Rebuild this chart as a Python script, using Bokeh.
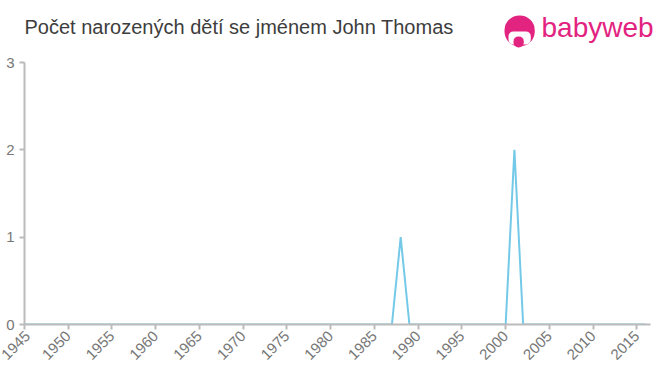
import math
from bokeh.plotting import figure
from bokeh.models import Label, FixedTicker, Range1d
from bokeh.embed import file_html
from bokeh.resources import INLINE

years = list(range(1945, 2017))
counts = [0] * len(years)
peak_years = [1988, 2001]
peak_values = [1, 2]
for y, v in zip(peak_years, peak_values):
    counts[years.index(y)] = v

x_ticks = list(range(1945, 2020, 5))
y_ticks = [0, 1, 2, 3]
title_text = "Počet narozených dětí se jménem John Thomas"

FONT = "Liberation Sans"
PINK = "#e2237f"

p = figure(width=660, height=375, output_backend="svg", toolbar_location=None,
           x_range=Range1d(1945, 2017.7), y_range=Range1d(0, 3.71),
           min_border_left=24, min_border_right=0, min_border_top=0, min_border_bottom=51)
p.outline_line_color = None
p.xgrid.grid_line_color = None
p.ygrid.grid_line_color = None
p.background_fill_color = "white"
p.border_fill_color = "white"

p.line(years, counts, line_color="#74c9e8", line_width=2)

for ax in (p.xaxis[0], p.yaxis[0]):
    ax.axis_line_color = "#bbbbbb"
    ax.axis_line_width = 2
    ax.major_tick_line_color = "#bbbbbb"
    ax.major_tick_line_width = 2
    ax.major_tick_out = 5
    ax.major_tick_in = 0
    ax.minor_tick_line_color = None
    ax.major_label_text_color = "#777777"
    ax.major_label_text_font = FONT
    ax.major_label_text_font_size = "15px"

p.xaxis[0].ticker = FixedTicker(ticks=x_ticks)
p.yaxis[0].ticker = FixedTicker(ticks=y_ticks)
p.yaxis[0].bounds = (0, 3)
p.xaxis[0].bounds = (1945, 2016.55)
p.xaxis[0].major_label_orientation = math.pi / 4
p.xaxis[0].major_label_standoff = 4
p.yaxis[0].major_label_standoff = 5

# screen units are relative to the frame (frame bottom-left = canvas (24, 324))
title = Label(x=0, y=287, x_units="screen", y_units="screen", text=title_text,
              text_font=FONT, text_font_size="20px", text_color="#3d3d3d")
p.add_layout(title)

# logo icon: pink disc, white face, pink head (box grows right/up from anchor)
icon = Label(x=480, y=278, x_units="screen", y_units="screen", text=" ",
             text_font_size="1px", background_fill_color=PINK,
             border_radius=15, padding=15)
p.add_layout(icon)
face = Label(x=484, y=280, x_units="screen", y_units="screen", text=" ",
             text_font_size="1px", background_fill_color="white",
             border_radius=5, padding=dict(left=11, right=11, top=6, bottom=6))
p.add_layout(face)
head = Label(x=489, y=277, x_units="screen", y_units="screen", text=" ",
             text_font_size="1px", background_fill_color=PINK,
             border_radius=5, padding=5)
p.add_layout(head)

logo = Label(x=517, y=282, x_units="screen", y_units="screen", text="babyweb",
             text_font=FONT, text_font_size="28px", text_color=PINK)
p.add_layout(logo)

open("out.html", "w").write(file_html(p, INLINE))
